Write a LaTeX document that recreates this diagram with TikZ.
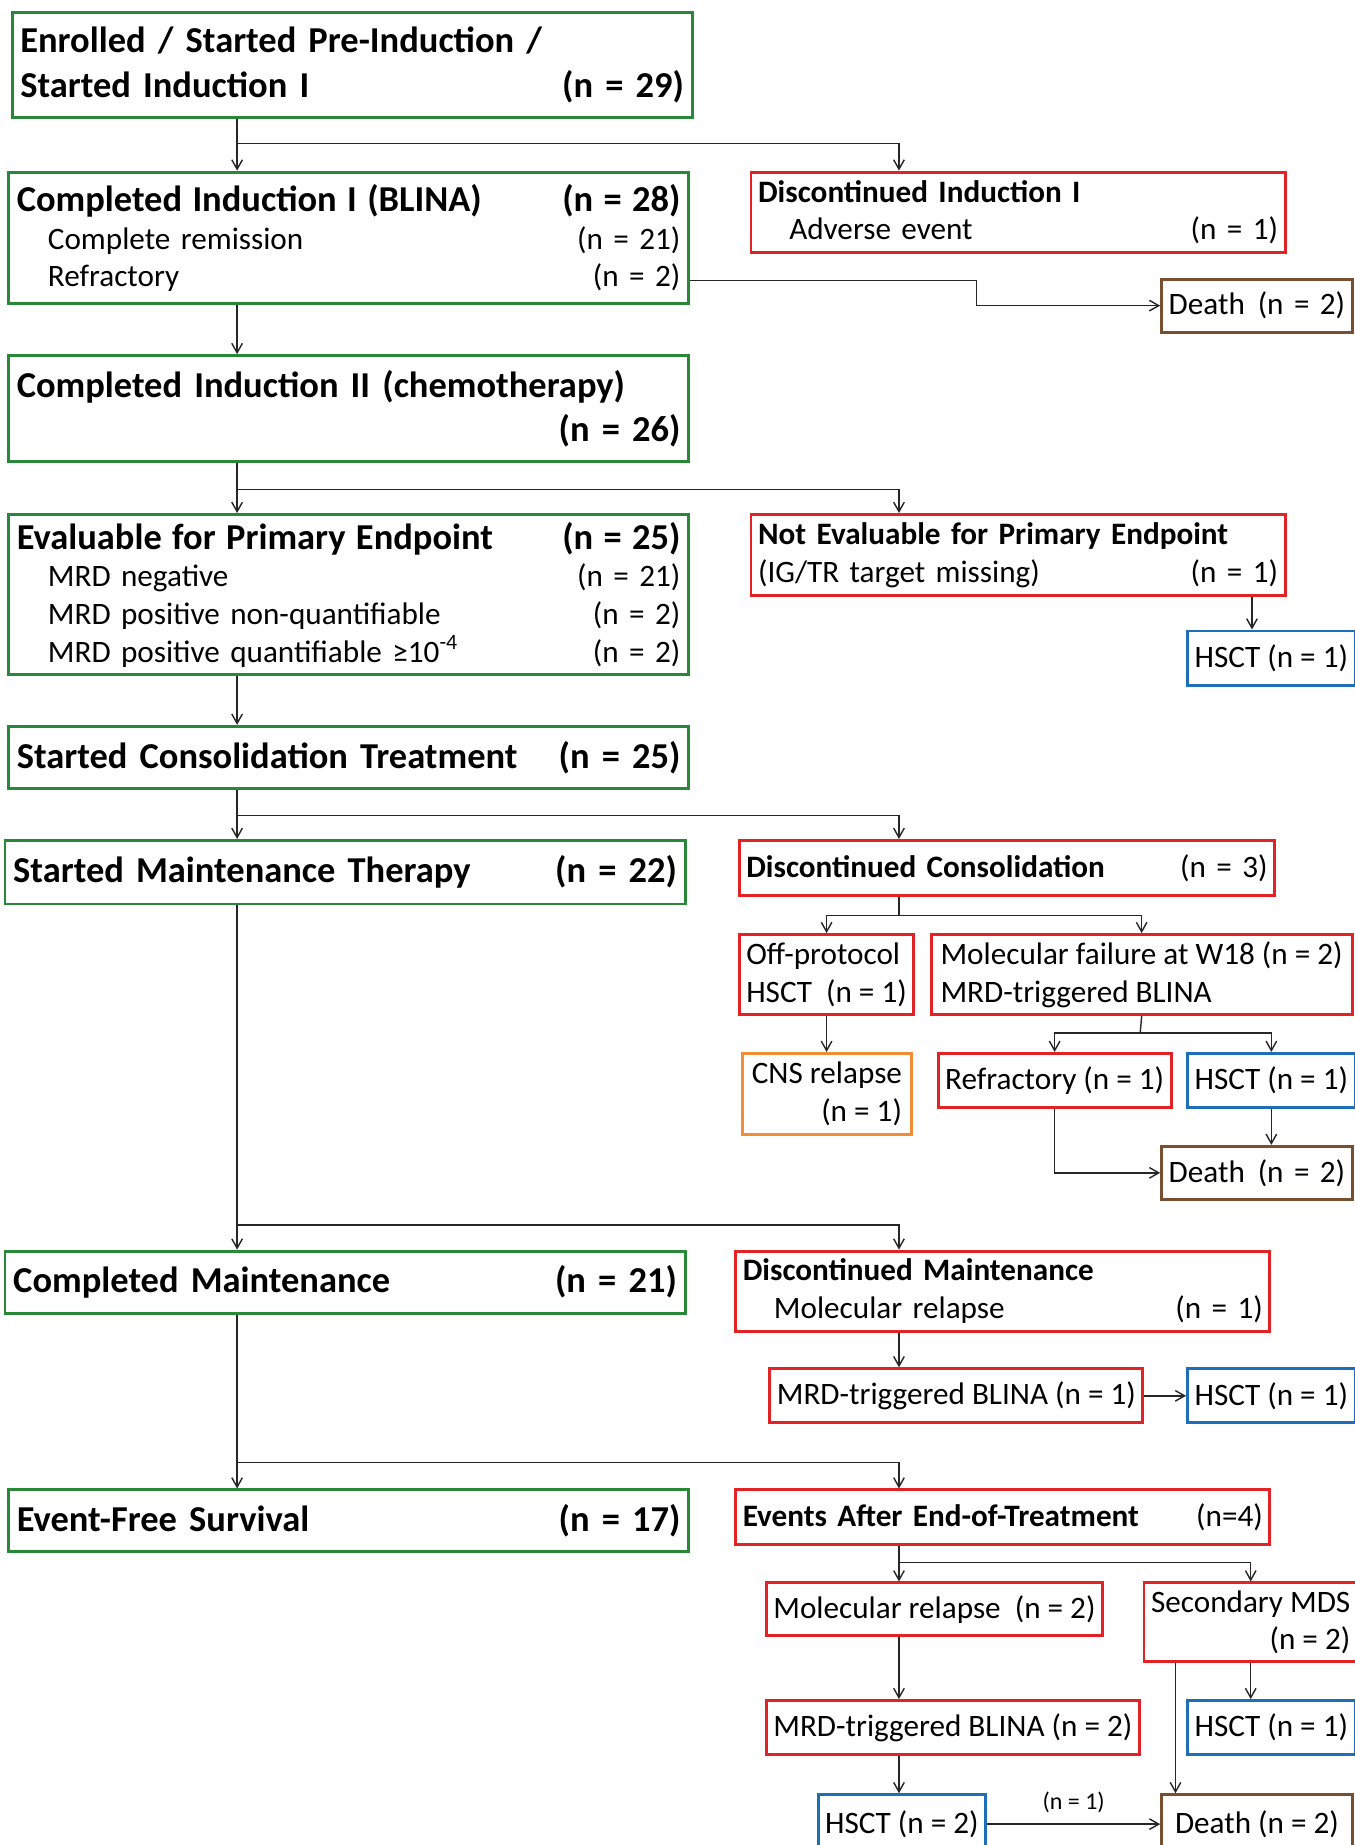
\documentclass[tikz,border=0pt]{standalone}
\usepackage{fontspec}
\setmainfont{Carlito}
\usetikzlibrary{arrows.meta,calc}

\definecolor{flowgreen}{RGB}{40,136,56}
\definecolor{flowred}{RGB}{226,34,36}
\definecolor{flowblue}{RGB}{30,110,186}
\definecolor{floworange}{RGB}{241,141,52}
\definecolor{flowbrown}{RGB}{120,80,48}

\newcommand{\boxtitle}[1]{{\fontsize{15.5}{19}\selectfont\bfseries #1}}

\begin{document}
\begin{tikzpicture}[x=0.5pt, y=-0.5pt,
        base_box/.style={draw, line width=1.25pt, anchor=north west, inner xsep=3pt, inner ysep=0pt, align=left, font=\fontsize{13.25}{16}\selectfont},
        green_box/.style={base_box, draw=flowgreen, inner xsep=3.5pt},
        red_box/.style={base_box, draw=flowred},
        blue_box/.style={base_box, draw=flowblue, minimum width=70pt, minimum height=23pt},
        orange_box/.style={base_box, draw=floworange},
        brown_box/.style={base_box, draw=flowbrown},
        head_font/.style={font=\fontsize{15.5}{19}\selectfont\bfseries},
        link/.style={line width=0.6pt, draw=black!85, -{Straight Barb[length=4pt,width=4.5pt]}},
        trunk_line/.style={line width=0.6pt, draw=black!85}
    ]
    \useasboundingbox (0,0) rectangle (1151,1568);

    % Colonna principale
    \node[green_box, head_font, text width=282pt, minimum height=45pt] (enr) at (9,9)
        {Enrolled / Started Pre-Induction /\\Started Induction I\hfill(n = 29)};
    \node[green_box, text width=282pt, minimum height=56pt] (ind1) at (6,145)
        {\boxtitle{Completed Induction I (BLINA)\hfill(n = 28)}\\
         \hspace*{1em}Complete remission\hfill(n = 21)\\
         \hspace*{1em}Refractory\hfill(n = 2)};
    \node[green_box, head_font, text width=282pt, minimum height=45pt] (ind2) at (6,301)
        {Completed Induction II (chemotherapy)\\\mbox{}\hfill(n = 26)};
    \node[green_box, text width=282pt, minimum height=68pt] (eval) at (6,436)
        {\boxtitle{Evaluable for Primary Endpoint\hfill(n = 25)}\\
         \hspace*{1em}MRD negative\hfill(n = 21)\\
         \hspace*{1em}MRD positive non-quantifiable\hfill(n = 2)\\
         \hspace*{1em}MRD positive quantifiable ≥10\textsuperscript{-4}\hfill(n = 2)};
    \node[green_box, head_font, text width=282pt, minimum height=26.5pt] (cons) at (6,616)
        {Started Consolidation Treatment\hfill(n = 25)};
    \node[green_box, head_font, text width=282pt, minimum height=27pt] (maint) at (3,713)
        {Started Maintenance Therapy\hfill(n = 22)};
    \node[green_box, head_font, text width=282pt, minimum height=26.5pt] (compm) at (3,1062)
        {Completed Maintenance\hfill(n = 21)};
    \node[green_box, head_font, text width=282pt, minimum height=26pt] (efs) at (6,1265)
        {Event-Free Survival\hfill(n = 17)};

    % Colonna destra
    \node[red_box, text width=221pt, minimum height=34pt] (dis1) at (637,145)
        {\textbf{Discontinued Induction I}\\
         \hspace*{1em}Adverse event\hfill(n = 1)};
    \node[brown_box, text width=75pt, minimum height=22.5pt] (death1) at (986,236)
        {Death\hfill(n = 2)};
    \node[red_box, text width=221pt, minimum height=34.5pt] (noteval) at (637,436)
        {\textbf{Not Evaluable for Primary Endpoint}\\
         (IG/TR target missing)\hfill(n = 1)};
    \node[blue_box] (hsct_a) at (1008,535) {HSCT (n = 1)};
    \node[red_box, text width=221.5pt, minimum height=23.5pt] (discons) at (627,713)
        {\textbf{Discontinued Consolidation}\hfill(n = 3)};
    \node[red_box, minimum width=72.5pt, minimum height=34pt] (offp) at (627,793)
        {Off-protocol\\HSCT\ \ (n = 1)};
    \node[red_box, minimum width=179pt, minimum height=34pt] (molf) at (790,793)
        {Molecular failure at W18 (n = 2)\\MRD-triggered BLINA};
    \node[orange_box, align=right, minimum width=71.5pt, minimum height=34.5pt] (cns) at (630,894)
        {CNS relapse\\(n = 1)};
    \node[red_box, minimum width=97.5pt, minimum height=23pt] (refr) at (796,894)
        {Refractory (n = 1)};
    \node[blue_box] (hsct_b) at (1008,894) {HSCT (n = 1)};
    \node[brown_box, text width=75pt, minimum height=22.5pt] (death2) at (986,973)
        {Death\hfill(n = 2)};
    \node[red_box, text width=221pt, minimum height=34pt] (dism) at (624,1062)
        {\textbf{Discontinued Maintenance}\\
         \hspace*{1em}Molecular relapse\hfill(n = 1)};
    \node[red_box, minimum width=156.5pt, minimum height=23pt] (mrd1) at (653,1162)
        {MRD-triggered BLINA (n = 1)};
    \node[blue_box] (hsct_c) at (1008,1162) {HSCT (n = 1)};
    \node[red_box, text width=221pt, minimum height=23pt] (eaeot) at (624,1265)
        {\textbf{Events After End-of-Treatment}\hfill(n=4)};
    \node[red_box, minimum width=142.5pt, minimum height=22.5pt] (molr) at (650,1344)
        {Molecular relapse\ \ (n = 2)};
    \node[red_box, align=right, minimum width=88.5pt, minimum height=33.5pt] (smds) at (971,1344)
        {Secondary MDS\\(n = 2)};
    \node[red_box, minimum width=156pt, minimum height=23pt] (mrd2) at (650,1444)
        {MRD-triggered BLINA (n = 2)};
    \node[blue_box] (hsct_d) at (1008,1444) {HSCT (n = 1)};
    \node[blue_box, minimum height=25pt] (hsct_e) at (694,1524) {HSCT (n = 2)};
    \node[brown_box, minimum width=81pt, minimum height=25pt] (death3) at (986,1524) {Death (n = 2)};

    % Punti di snodo
    \coordinate (spine) at (201.5,0);
    \coordinate (rsp) at (764,0);
    \coordinate (br1) at (201.5,122);
    \coordinate (br2) at (201.5,416);
    \coordinate (br3) at (201.5,693);
    \coordinate (br4) at (201.5,1041);
    \coordinate (br5) at (201.5,1243);
    \coordinate (k1) at (830,250);
    \coordinate (nx) at (1064,0);
    \coordinate (mx) at (999,0);
    \coordinate (s1) at (764,778);
    \coordinate (s2) at (969,878);
    \coordinate (s3) at (764,1328);

    % Frecce colonna principale
    \draw[link] (enr.south -| spine) -- (ind1.north -| spine);
    \draw[link] (br1) -| (dis1.north -| rsp);
    \draw[link] ($(ind1.south east)+(0,-21)$) -| (k1) |- (death1.west);
    \draw[link] (ind1.south -| spine) -- (ind2.north -| spine);
    \draw[link] (ind2.south -| spine) -- (eval.north -| spine);
    \draw[link] (br2) -| (noteval.north -| rsp);
    \draw[link] (noteval.south -| nx) -- (hsct_a.north -| nx);
    \draw[link] (eval.south -| spine) -- (cons.north -| spine);
    \draw[link] (cons.south -| spine) -- (maint.north -| spine);
    \draw[link] (br3) -| (discons.north -| rsp);
    \draw[link] (maint.south -| spine) -- (compm.north -| spine);
    \draw[link] (br4) -| (dism.north -| rsp);
    \draw[link] (compm.south -| spine) -- (efs.north -| spine);
    \draw[link] (br5) -| (eaeot.north -| rsp);

    % Consolidamento
    \draw[trunk_line] (discons.south -| rsp) -- (s1);
    \draw[link] (s1) -| (offp.north);
    \draw[link] (s1) -| (molf.north);
    \draw[link] (offp.south) -- (offp.south |- cns.north);
    \draw[trunk_line] (molf.south) -- (s2);
    \draw[link] (s2) -| (refr.north);
    \draw[link] (s2) -| (hsct_b.north);
    \draw[link] (refr.south) |- (death2.west);
    \draw[link] (hsct_b.south) -- (hsct_b.south |- death2.north);

    % Mantenimento
    \draw[link] (dism.south -| rsp) -- (mrd1.north -| rsp);
    \draw[link] (mrd1.east) -- (hsct_c.west);

    % Eventi dopo fine trattamento
    \draw[link] (eaeot.south -| rsp) -- (molr.north -| rsp);
    \draw[link] (s3) -| (smds.north);
    \draw[link] (molr.south -| rsp) -- (mrd2.north -| rsp);
    \draw[link] (mrd2.south -| rsp) -- (hsct_e.north -| rsp);
    \draw[link] (smds.south) -- (smds.south |- hsct_d.north);
    \draw[link] (smds.south -| mx) -- (death3.north -| mx);
    \draw[link] (hsct_e.east) -- node[above=1pt, font=\fontsize{10.2}{12}\selectfont] (n_lbl) {(n = 1)} (death3.west);
\end{tikzpicture}
\end{document}
